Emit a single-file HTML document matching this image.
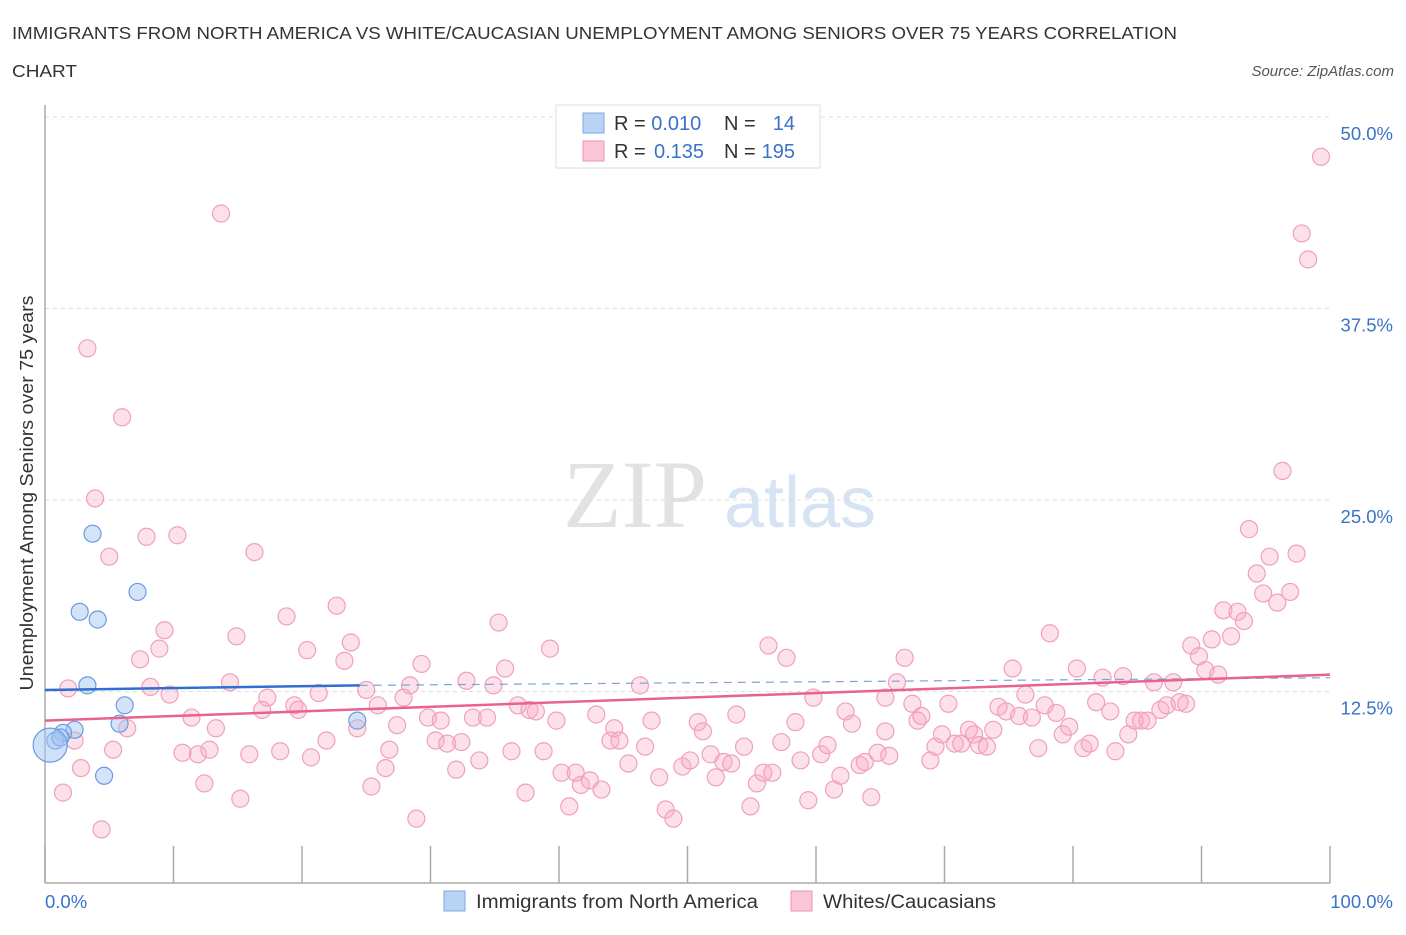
<!DOCTYPE html>
<html><head><meta charset="utf-8"><style>
body{margin:0;background:#fff;font-family:"Liberation Sans",sans-serif;}
</style></head><body>
<svg id="chart" width="1406" height="930" xmlns="http://www.w3.org/2000/svg" font-family="Liberation Sans, sans-serif">
<text x="12" y="39" font-size="17.5" fill="#333" textLength="1165" lengthAdjust="spacingAndGlyphs">IMMIGRANTS FROM NORTH AMERICA VS WHITE/CAUCASIAN UNEMPLOYMENT AMONG SENIORS OVER 75 YEARS CORRELATION</text>
<text x="12" y="77" font-size="17.5" fill="#333" textLength="65" lengthAdjust="spacingAndGlyphs">CHART</text>
<text x="1394" y="76" font-size="15" fill="#555" font-style="italic" text-anchor="end">Source: ZipAtlas.com</text>
<g>
<text x="635" y="527" font-size="96" fill="#e2e2e2" text-anchor="middle" font-family="Liberation Serif, serif">ZIP</text>
<text x="800" y="527" font-size="72" fill="#d5e3f3" text-anchor="middle">atlas</text>
</g>
<g id="grid"></g>
<g id="axes"></g>
<g id="pts"></g>
<g id="lines"></g>
<text transform="translate(33,493) rotate(-90)" font-size="18" fill="#333" text-anchor="middle" textLength="395" lengthAdjust="spacingAndGlyphs">Unemployment Among Seniors over 75 years</text>
<text x="45" y="908" font-size="18.5" fill="#3a72c9">0.0%</text>
<text x="1393" y="908" font-size="18.5" fill="#3a72c9" text-anchor="end">100.0%</text>
<g>
<rect x="556" y="105" width="264" height="63" fill="#fff" stroke="#ddd"/>
<rect x="583" y="113" width="21" height="20" fill="#b9d3f5" stroke="#7aa7e6"/>
<rect x="583" y="141" width="21" height="20" fill="#fac5d5" stroke="#ee93b0"/>
<text x="614" y="130" font-size="20" fill="#333">R = <tspan fill="#3a72c9">0.010</tspan></text>
<text x="724" y="130" font-size="20" fill="#333">N = </text><text x="795" y="130" font-size="20" fill="#3a72c9" text-anchor="end">14</text>
<text x="614" y="158" font-size="20" fill="#333">R = </text><text x="654" y="158" font-size="20" fill="#3a72c9">0.135</text>
<text x="724" y="158" font-size="20" fill="#333">N = </text><text x="795" y="158" font-size="20" fill="#3a72c9" text-anchor="end">195</text>
</g>
<g>
<rect x="444" y="891" width="21" height="20" fill="#b9d3f5" stroke="#7aa7e6"/>
<text x="476" y="908" font-size="19" fill="#333" textLength="282" lengthAdjust="spacingAndGlyphs">Immigrants from North America</text>
<rect x="791" y="891" width="21" height="20" fill="#fac5d5" stroke="#ee93b0"/>
<text x="823" y="908" font-size="19" fill="#333" textLength="173" lengthAdjust="spacingAndGlyphs">Whites/Caucasians</text>
</g>
</svg>
<script>
const yTicks=[12.5,25,37.5,50];
const yTickLabels=["12.5%","25.0%","37.5%","50.0%"];
const xTicks=[0,10,20,30,40,50,60,70,80,90,100];
const blueX=[3.7,2.7,4.1,7.2,3.3,6.2,5.8,4.6,24.3,2.3,1.4,0.8,1.2];
const blueY=[22.8,17.7,17.2,19.0,12.9,11.6,10.4,7.0,10.6,10.0,9.8,9.3,9.5];
const blueBigX=[0.4];const blueBigY=[9.0];
const pinkX=[13.7,3.3,6.0,3.9,5.0,7.9,10.3,16.3,9.3,8.9,7.4,14.9,18.8,20.4,22.7,23.8,23.3,14.4,8.2,1.8,9.7,11.4,13.3,6.4,2.3,5.3,10.7,11.9,12.8,15.9,18.3,20.7,21.9,2.8,1.4,12.4,15.2,4.4,17.3,16.9,19.4,19.7,21.3,25.0,25.9,27.9,28.4,24.3,27.4,26.8,26.5,25.4,28.9,29.3,29.8,30.8,30.4,31.3,32.4,32.0,32.8,34.9,33.3,34.4,33.8,35.8,35.3,36.8,37.7,38.2,36.3,38.8,39.8,39.3,37.4,40.2,40.8,41.7,42.4,43.3,42.9,41.3,44.0,44.3,44.7,45.4,46.3,46.7,47.2,47.8,48.3,48.9,49.6,50.2,50.8,51.2,52.2,51.8,52.8,53.4,53.8,54.4,54.9,55.4,55.9,56.3,56.6,57.7,57.3,58.4,58.8,59.4,59.8,60.4,60.9,61.4,61.9,62.3,62.8,63.4,63.8,64.3,64.8,65.4,65.7,66.3,66.9,65.4,67.5,67.9,68.2,68.9,69.3,69.8,70.3,70.8,71.3,71.9,72.3,72.7,73.3,73.8,74.2,74.8,75.3,75.8,76.3,76.8,77.3,77.8,78.2,78.7,79.2,79.7,80.3,80.8,81.3,81.8,82.3,82.9,83.3,83.9,84.3,84.8,85.3,85.8,86.3,86.8,87.3,87.8,88.3,88.8,89.2,89.8,90.3,90.8,91.3,91.7,92.3,92.8,93.3,93.7,94.3,94.8,95.3,95.9,96.3,96.9,97.4,97.8,98.3,99.3];
const pinkY=[43.7,34.9,30.4,25.1,21.3,22.6,22.7,21.6,16.5,15.3,14.6,16.1,17.4,15.2,18.1,15.7,14.5,13.1,12.8,12.7,12.3,10.8,10.1,10.1,9.3,8.7,8.5,8.4,8.7,8.4,8.6,8.2,9.3,7.5,5.9,6.5,5.5,3.5,12.1,11.3,11.6,11.3,12.4,12.6,11.6,12.1,12.9,10.1,10.3,8.7,7.5,6.3,4.2,14.3,10.8,10.6,9.3,9.1,9.2,7.4,13.2,12.9,10.8,10.8,8.0,14.0,17.0,11.6,11.3,11.2,8.6,8.6,10.6,15.3,5.9,7.2,5.0,6.4,6.7,6.1,11.0,7.2,9.3,10.1,9.3,7.8,12.9,8.9,10.6,6.9,4.8,4.2,7.6,8.0,10.5,9.9,6.9,8.4,7.9,7.8,11.0,8.9,5.0,6.5,7.2,15.5,7.2,14.7,9.2,10.5,8.0,5.4,12.1,8.4,9.0,6.1,7.0,11.2,10.4,7.7,7.9,5.6,8.5,9.9,8.3,13.1,14.7,12.1,11.7,10.6,10.9,8.0,8.9,9.7,11.7,9.1,9.1,10.0,9.7,9.0,8.9,10.0,11.5,11.2,14.0,10.9,12.3,10.8,8.8,11.6,16.3,11.1,9.7,10.2,14.0,8.8,9.1,11.8,13.4,11.2,8.6,13.5,9.7,10.6,10.6,10.6,13.1,11.3,11.6,13.1,11.8,11.7,15.5,14.8,13.9,15.9,13.6,17.8,16.1,17.7,17.1,23.1,20.2,18.9,21.3,18.3,26.9,19.0,21.5,42.4,40.7,47.4];
const blueTrend=[[0,12.6],[24.5,12.9],[100,13.4]];
const pinkTrend=[[0,10.6],[100,13.6]];
const NS="http://www.w3.org/2000/svg";
const X0=45,X1=1330,Y0=883,YPER=15.32;
function sx(v){return X0+(X1-X0)*v/100;}
function sy(v){return Y0-v*YPER;}
function mk(tag,attrs,parent){const e=document.createElementNS(NS,tag);for(const k in attrs)e.setAttribute(k,attrs[k]);parent.appendChild(e);return e;}
const grid=document.getElementById('grid'),axes=document.getElementById('axes'),pts=document.getElementById('pts'),lines=document.getElementById('lines');
yTicks.forEach((t,i)=>{
 const l=mk('line',{x1:X0,x2:X1,y1:sy(t),y2:sy(t),stroke:'#ddd','stroke-dasharray':'4,4'},grid);
 
 
 const tx=mk('text',{x:1393,y:sy(t)+23,'font-size':18.5,fill:'#3a72c9','text-anchor':'end'},grid);
 tx.textContent=yTickLabels[i];
 
 
});
const ya=mk('line',{x1:X0,x2:X0,y1:105,y2:Y0,stroke:'#aaa','stroke-width':1.5},axes);


const xa=mk('line',{x1:X0,x2:X1,y1:Y0,y2:Y0,stroke:'#aaa','stroke-width':1.5},axes);


xTicks.forEach(t=>{
 const l=mk('line',{x1:sx(t),x2:sx(t),y1:Y0-37,y2:Y0,stroke:'#aaa','stroke-width':1.5},axes);
 
 
});
pinkX.forEach((v,i)=>{
 const c=mk('circle',{cx:sx(v),cy:sy(pinkY[i]),r:8.5,fill:'rgba(248,170,195,0.35)',stroke:'#f0a0ba','stroke-width':1.2},pts);
 
 
});
blueX.forEach((v,i)=>{
 const c=mk('circle',{cx:sx(v),cy:sy(blueY[i]),r:8.5,fill:'rgba(160,195,240,0.45)',stroke:'#6a9be0','stroke-width':1.2},pts);
 
 
});
blueBigX.forEach((v,i)=>{
 const c=mk('circle',{cx:sx(v),cy:sy(blueBigY[i]),r:17,fill:'rgba(160,195,240,0.5)',stroke:'#6a9be0','stroke-width':1.2},pts);
 
 
});
const bs=mk('line',{x1:sx(blueTrend[0][0]),y1:sy(blueTrend[0][1]),x2:sx(blueTrend[1][0]),y2:sy(blueTrend[1][1]),stroke:'#2f6fd0','stroke-width':2.5},lines);


const bd=mk('line',{x1:sx(blueTrend[1][0]),y1:sy(blueTrend[1][1]),x2:sx(blueTrend[2][0]),y2:sy(blueTrend[2][1]),stroke:'#7aa2dd','stroke-width':1.2,'stroke-dasharray':'8,6'},lines);


const pl=mk('line',{x1:sx(pinkTrend[0][0]),y1:sy(pinkTrend[0][1]),x2:sx(pinkTrend[1][0]),y2:sy(pinkTrend[1][1]),stroke:'#e8628e','stroke-width':2.5},lines);


</script>
</body></html>
